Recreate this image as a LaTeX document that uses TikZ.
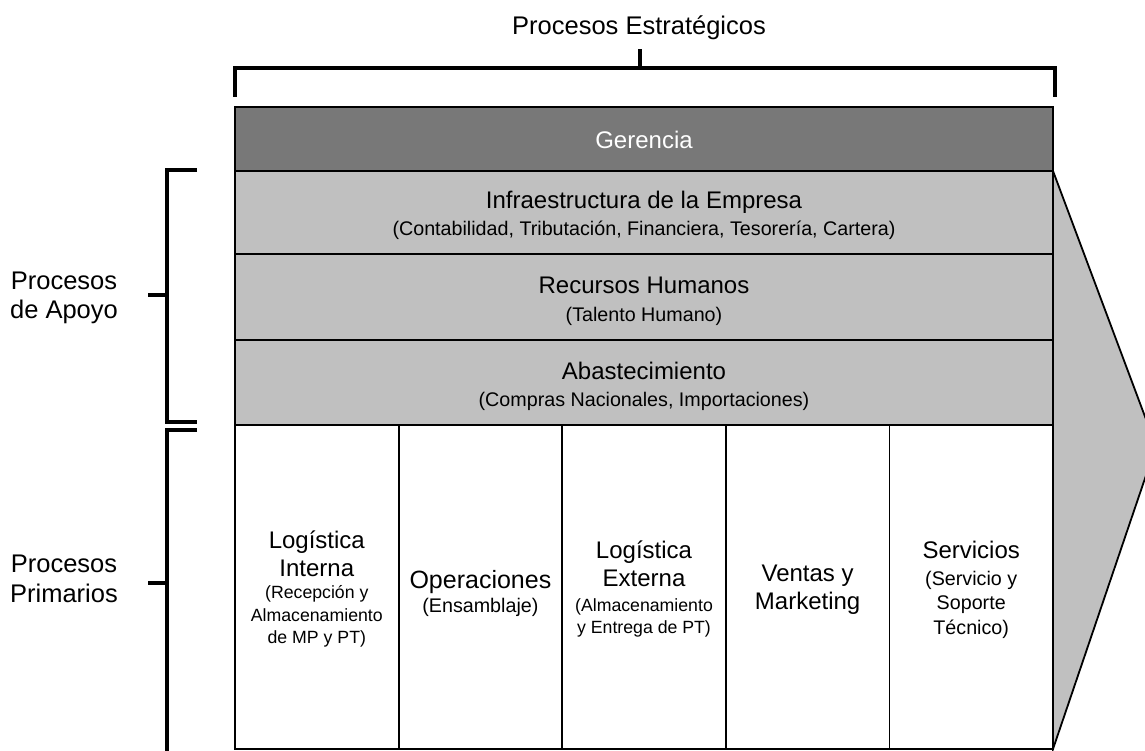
\documentclass[tikz,border=0pt]{standalone}
\usepackage{fontspec}
\setmainfont{Liberation Sans}
\usetikzlibrary{calc}
\definecolor{darkfill}{HTML}{787878}
\definecolor{lightfill}{HTML}{C0C0C0}
\begin{document}
\begin{tikzpicture}[x=1pt,y=-1pt,
  box/.style={draw=black, line width=1.8pt, inner sep=0pt, outer sep=0pt, anchor=north west},
  brk/.style={draw=black, line width=3.6pt, line join=miter},
  txt/.style={inner sep=0pt, anchor=base, text=black},
  ttl/.style={txt, font=\fontsize{24}{28}\selectfont},
  lbl/.style={txt, font=\fontsize{25.5}{30}\selectfont},
  sub/.style={txt, font=\fontsize{19.7}{23}\selectfont},
  subs/.style={txt, font=\fontsize{17.7}{22}\selectfont}]
\clip (0,0) rectangle (1145,751);
\fill[white] (0,0) rectangle (1145,751);

% rows
\node[box, fill=darkfill,  minimum width=818pt, minimum height=64pt] (ger)   at (235,107) {};
\node[box, fill=lightfill, minimum width=818pt, minimum height=83pt] (infra) at (235,171) {};
\node[box, fill=lightfill, minimum width=818pt, minimum height=86pt] (rh)    at (235,254) {};
\node[box, fill=lightfill, minimum width=818pt, minimum height=85pt] (abas)  at (235,340) {};
% primary columns
\node[box, fill=white, minimum width=163.6pt, minimum height=324pt] (c1) at (235,425) {};
\node[box, fill=white, minimum width=163.6pt, minimum height=324pt] (c2) at (398.6,425) {};
\node[box, fill=white, minimum width=163.6pt, minimum height=324pt] (c3) at (562.2,425) {};
\node[box, fill=white, minimum width=163.6pt, minimum height=324pt] (c4) at (725.8,425) {};
\node[box, fill=white, minimum width=163.6pt, minimum height=324pt] (c5) at (889.4,425) {};

% chevron
\coordinate (tip) at (1156,446);
\draw[fill=lightfill, line width=1.8pt, line join=miter] (infra.north east) -- (tip) -- (c5.south east) -- cycle;

% brackets
\draw[brk] (235,97) -- (235,68) -- (1055,68) -- (1055,97);
\draw[brk] (640,68) -- (640,49);
\draw[brk] (197,170) -- (167,170) -- (167,422) -- (197,422);
\draw[brk] (148,295) -- (167,295);
\draw[brk] (197,430) -- (167,430) -- (167,760);
\draw[brk] (148,583) -- (167,583);

% labels
\node[lbl] (tEst) at (639,34.5) {Procesos Estratégicos};
\node[lbl] (tAp1) at (64,289.3) {Procesos};
\node[lbl] (tAp2) at (64,318.3) {de Apoyo};
\node[lbl] (tPr1) at (64,572.7) {Procesos};
\node[lbl] (tPr2) at (64,602.7) {Primarios};

% row texts
\node[ttl, text=white] (gerT) at (644,148.3) {Gerencia};
\node[ttl] (infraT) at (644,208.3) {Infraestructura de la Empresa};
\node[sub] (infraS) at (644,236) {(Contabilidad, Tributación, Financiera, Tesorería, Cartera)};
\node[ttl] (rhT) at (644,293.3) {Recursos Humanos};
\node[sub] (rhS) at (644,321) {(Talento Humano)};
\node[ttl] (abasT) at (644,379) {Abastecimiento};
\node[sub] (abasS) at (644,406) {(Compras Nacionales, Importaciones)};

% column texts
\node[ttl] (c1a) at (316.8,548.3) {Logística};
\node[ttl] (c1b) at (316.8,576) {Interna};
\node[subs] (c1c) at (316.8,598.5) {(Recepción y};
\node[subs] (c1d) at (316.8,621) {Almacenamiento};
\node[subs] (c1e) at (316.8,643.5) {de MP y PT)};

\node[ttl, font=\fontsize{25}{28}\selectfont] (c2a) at (480.4,588) {Operaciones};
\node[sub] (c2b) at (480.4,612) {(Ensamblaje)};

\node[ttl] (c3a) at (644,558) {Logística};
\node[ttl] (c3b) at (644,586.7) {Externa};
\node[subs] (c3c) at (644,611.5) {(Almacenamiento};
\node[subs] (c3d) at (644,633.5) {y Entrega de PT)};

\node[ttl] (c4a) at (807.6,581.7) {Ventas y};
\node[ttl] (c4b) at (807.6,609) {Marketing};

\node[ttl] (c5a) at (971.2,558) {Servicios};
\node[sub] (c5b) at (971.2,585) {(Servicio y};
\node[sub] (c5c) at (971.2,609) {Soporte};
\node[sub] (c5d) at (971.2,634) {Técnico)};
\end{tikzpicture}
\end{document}
